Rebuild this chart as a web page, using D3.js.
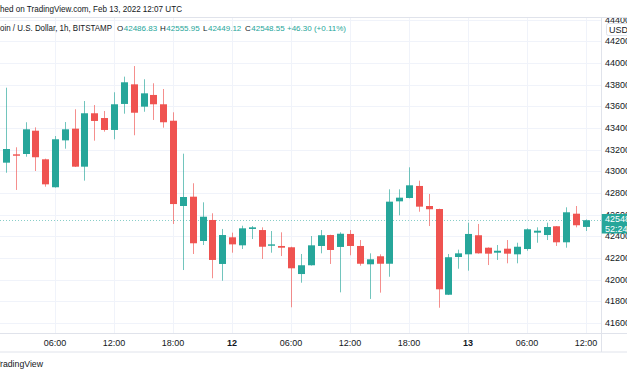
<!DOCTYPE html>
<html>
<head>
<meta charset="utf-8">
<script src="https://cdn.jsdelivr.net/npm/d3@7"></script>
<style>
body{margin:0;background:#fff;}
svg{display:block;font-family:"Liberation Sans",Arial,sans-serif;}
</style>
</head>
<body>
<div id="chart"></div>
<script>
// 1h candles, Feb 11 01:00 .. Feb 13 12:00 UTC
var startTime = new Date(Date.UTC(2022, 1, 11, 1));
var opens = [43080,43157,43160,43375,43111,42853,43286,43394,43043,43536,
             43492,43382,43622,43803,43597,43705,43619,43467,42680,42766,
             42357,42551,42145,42391,42317,42468,42458,42313,42311,42299,
             42052,42133,42311,42412,42302,42422,42311,42142,42216,42147,
             42723,42754,42865,42680,42652,41861,42209,42234,42410,42295,
             42249,42286,42234,42283,42434,42412,42493,42345,42609,42486.83];
var highs = [43772,43222,43453,43406,43117,43326,43455,43573,43649,43612,
             43557,43730,43874,43972,43850,43813,43760,43545,43163,42890,
             42714,42613,42468,42434,42498,42495,42483,42449,42437,42304,
             42237,42403,42458,42415,42437,42458,42366,42243,42234,42834,
             42834,43037,42914,42791,42655,42237,42277,42526,42514,42298,
             42320,42366,42341,42474,42483,42526,42495,42668,42680,42555.95];
var lows = [42987,42828,43135,43003,42858,42850,43209,43040,42914,43283,
            43366,43296,43532,43333,43550,43474,43403,42514,42089,42237,
            42320,42013,41990,42249,42283,42375,42191,42249,42218,41745,
            41972,42130,42243,42145,41883,42225,42129,41822,41880,42027,
            42594,42750,42627,42495,41741,41858,42101,42083,42240,42135,
            42182,42151,42151,42267,42341,42366,42311,42295,42483,42449.12];
var closes = [43206,43144,43388,43130,42880,43296,43388,43043,43536,43465,
              43382,43619,43822,43541,43720,43619,43453,42698,42763,42336,
              42581,42182,42412,42326,42474,42483,42304,42326,42295,42105,
              42133,42317,42410,42274,42424,42311,42147,42188,42147,42720,
              42757,42871,42674,42650,41911,42207,42243,42422,42243,42240,
              42267,42240,42304,42465,42452,42486,42345,42622,42502.25,42548.55];
var priceTicks = [41600,41800,42000,42200,42400,42600,42800,43000,43200,43400,43600,43800,44000,44200,44400];
var timeTickLabels = ["06:00","12:00","18:00","12","06:00","12:00","18:00","13","06:00","12:00"];
var lastPrice = 42548.55;
var countdown = "52:24";

var W = 627, H = 376;
var plotTop = 18, plotBottom = 333.5, axisRight = 601.5, timeAxisBottom = 352;
var green = "#26a69a", red = "#ef5350", ink = "#131722";

var data = opens.map(function(o, i){
    return {t: d3.utcHour.offset(startTime, i), o: o, h: highs[i], l: lows[i], c: closes[i]};
});

var x = d3.scaleUtc()
    .domain([new Date(Date.UTC(2022,1,11,0)), new Date(Date.UTC(2022,1,13,12))])
    .range([-4, 586]);
var y = d3.scaleLinear().domain([41600, 44000]).range([323, 63]);

var svg = d3.select("#chart").append("svg")
    .attr("width", W).attr("height", H);

var defs = svg.append("defs");
defs.append("clipPath").attr("id","plotClip")
    .append("rect").attr("x",0).attr("y",plotTop).attr("width",axisRight).attr("height",plotBottom-plotTop);
defs.append("clipPath").attr("id","axisClip")
    .append("rect").attr("x",axisRight).attr("y",plotTop).attr("width",W-axisRight).attr("height",plotBottom-plotTop);

var plot = svg.append("g").attr("clip-path","url(#plotClip)");

// grid
plot.selectAll(".hgrid").data(priceTicks).enter().append("line")
    .attr("x1",0).attr("x2",axisRight)
    .attr("y1",function(d){return Math.round(y(d))+0.5;})
    .attr("y2",function(d){return Math.round(y(d))+0.5;})
    .attr("stroke","#f0f3fa");

var timeTicks = d3.utcHour.every(6).range(new Date(Date.UTC(2022,1,11,6)), new Date(Date.UTC(2022,1,13,13)));
plot.selectAll(".vgrid").data(timeTicks).enter().append("line")
    .attr("y1",plotTop).attr("y2",plotBottom)
    .attr("x1",function(d){return Math.round(x(d))+0.5;})
    .attr("x2",function(d){return Math.round(x(d))+0.5;})
    .attr("stroke","#f0f3fa");

// price line
plot.append("line")
    .attr("x1",0).attr("x2",axisRight)
    .attr("y1",Math.round(y(lastPrice))+0.5).attr("y2",Math.round(y(lastPrice))+0.5)
    .attr("stroke",green).attr("stroke-opacity",0.55)
    .attr("stroke-dasharray","1,2");

// candles
var candle = plot.selectAll(".candle").data(data).enter().append("g").attr("class","candle");
candle.append("line")
    .attr("x1",function(d){return Math.round(x(d.t))+0.5;})
    .attr("x2",function(d){return Math.round(x(d.t))+0.5;})
    .attr("y1",function(d){return y(d.h);})
    .attr("y2",function(d){return y(d.l);})
    .attr("stroke",function(d){return d.c>=d.o?green:red;})
    .attr("stroke-opacity",0.65);
candle.append("rect")
    .attr("x",function(d){return Math.round(x(d.t))-3;})
    .attr("width",7)
    .attr("y",function(d){return y(Math.max(d.o,d.c));})
    .attr("height",function(d){return Math.max(1.2, Math.abs(y(d.o)-y(d.c)));})
    .attr("fill",function(d){return d.c>=d.o?green:red;});

// frame lines
svg.append("line").attr("x1",0).attr("x2",W).attr("y1",plotTop-0.5).attr("y2",plotTop-0.5).attr("stroke","#e0e3eb");
svg.append("line").attr("x1",0).attr("x2",W).attr("y1",plotBottom).attr("y2",plotBottom).attr("stroke","#e0e3eb");
svg.append("line").attr("x1",0).attr("x2",W).attr("y1",timeAxisBottom).attr("y2",timeAxisBottom).attr("stroke","#e0e3eb");
svg.append("line").attr("x1",axisRight).attr("x2",axisRight).attr("y1",plotTop).attr("y2",timeAxisBottom).attr("stroke","#e0e3eb");

// price axis
var yAxisG = svg.append("g").attr("clip-path","url(#axisClip)");
yAxisG.selectAll(".plabel").data(priceTicks).enter().append("text")
    .attr("x",605).attr("y",function(d){return y(d);})
    .attr("dy","0.35em")
    .style("font-size","9px").style("fill",ink)
    .text(function(d){return d;});

// USD badge
yAxisG.append("rect").attr("x",606.5).attr("y",23.5).attr("width",30).attr("height",12)
    .attr("fill","#fff").attr("stroke","#e0e3eb").attr("rx",2);
yAxisG.append("text").attr("x",609).attr("y",29.5).attr("dy","0.35em")
    .style("font-size","9px").style("fill",ink).text("USD");

// last price label
yAxisG.append("rect").attr("x",axisRight).attr("y",214).attr("width",W-axisRight).attr("height",19.5)
    .attr("fill",green);
yAxisG.append("text").attr("x",605).attr("y",y(lastPrice)-1).attr("dy","0.35em")
    .style("font-size","9px").style("fill","#fff").text(lastPrice.toFixed(2));
yAxisG.append("text").attr("x",605).attr("y",229).attr("dy","0.35em")
    .style("font-size","9px").style("fill","#fff").text(countdown);

// time axis
svg.selectAll(".tlabel").data(timeTicks).enter().append("text")
    .attr("x",function(d){return x(d);})
    .attr("y",342.5).attr("dy","0.35em")
    .attr("text-anchor","middle")
    .style("font-size","9px").style("fill",ink)
    .style("font-weight",function(d,i){return timeTickLabels[i].length<3?"bold":"normal";})
    .text(function(d,i){return timeTickLabels[i];});

// text that is cut at the left edge: squeeze so the visible part spans [0, right]
function clippedText(str, hidden, right, yy){
    var t = svg.append("text").attr("y",yy).attr("dy","0.35em")
        .style("font-size","9.5px").style("fill",ink).text(str);
    var full = t.node().getComputedTextLength();
    var pre = t.node().getSubStringLength(0, hidden);
    var k = right/(full-pre);
    t.attr("x", -pre*k).attr("textLength", full*k).attr("lengthAdjust","spacingAndGlyphs");
    return t;
}
clippedText("Published on TradingView.com, Feb 13, 2022 12:07 UTC", 6, 182, 9);
clippedText("Bitcoin / U.S. Dollar, 1h, BITSTAMP", 4, 112, 28);
clippedText("TradingView", 1, 43, 364);

// OHLC legend
var last = data[data.length-1];
var prevClose = closes[closes.length-2];
var change = last.c - prevClose;
var legendItems = [
    {k:"O", v:last.o.toFixed(2), x:117},
    {k:"H", v:last.h.toFixed(2), x:160},
    {k:"L", v:last.l.toFixed(2), x:203},
    {k:"C", v:last.c.toFixed(2), x:245},
    {k:"", v:"+" + change.toFixed(2) + " (+" + (change/prevClose*100).toFixed(2) + "%)", x:287}
];
legendItems.forEach(function(d){
    var kw = 0;
    if(d.k){
        var kt = svg.append("text").attr("x",d.x).attr("y",28).attr("dy","0.35em")
            .style("font-size","8px").style("fill",ink).text(d.k);
        kw = kt.node().getComputedTextLength() + 0.5;
    }
    svg.append("text").attr("x",d.x+kw).attr("y",28).attr("dy","0.35em")
        .style("font-size","8px").style("fill",green).text(d.v);
});
</script>
</body>
</html>
